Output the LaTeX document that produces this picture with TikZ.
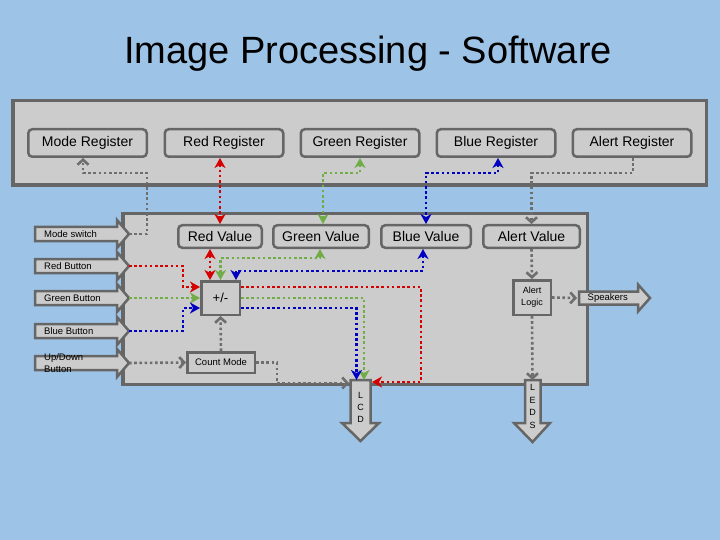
\documentclass[tikz,border=0pt]{standalone}
\usepackage{fontspec}
\setmainfont{Liberation Sans}
\usetikzlibrary{arrows.meta}
\definecolor{bg}{RGB}{157,195,230}
\definecolor{panel}{RGB}{204,204,204}
\definecolor{bord}{RGB}{102,102,102}
\definecolor{cred}{RGB}{215,0,0}
\definecolor{cgreen}{RGB}{112,173,71}
\definecolor{cblue}{RGB}{0,0,195}
\definecolor{cgray}{RGB}{110,110,110}
\begin{document}
\begin{tikzpicture}[x=1pt,y=-1pt,
  box/.style={draw=bord, fill=panel, line width=2.5pt, inner sep=0pt, text=black},
  rbox/.style={box, rounded corners=4pt},
  panelbox/.style={draw=bord, fill=panel, line width=3.5pt, inner sep=0pt},
  ashape/.style={draw=bord, fill=panel, line width=2.5pt, miter limit=10},
  big/.style={font=\fontsize{14}{16}\selectfont},
  small/.style={font=\fontsize{9.5}{11.5}\selectfont},
  lbl/.style={small, inner sep=0pt, anchor=west, align=left},
  con/.style={line width=2.6pt, dash pattern=on 2.6pt off 2.6pt},
  ctip/.tip={Stealth[length=10pt,width=11pt,inset=3pt]},
  gtip/.tip={Straight Barb[length=5pt,width=11pt]},
  cr/.style={con, draw=cred, ctip-ctip},
  crone/.style={con, draw=cred, -ctip},
  cg/.style={con, draw=cgreen, ctip-ctip},
  cgone/.style={con, draw=cgreen, -ctip},
  cb/.style={con, draw=cblue, ctip-ctip},
  cbone/.style={con, draw=cblue, -ctip},
  cy/.style={con, draw=cgray, -gtip}
]
\fill[bg] (0,0) rectangle (720,540);
\useasboundingbox (0,0) rectangle (720,540);

\node[anchor=base, font=\fontsize{38}{44}\selectfont] (title) at (368,64) {Image Processing - Software};

% panels
\node[panelbox, minimum width=693.5, minimum height=84.5] (toppanel) at (359.5,143) {};
\node[panelbox, minimum width=464.5, minimum height=170.5] (mainpanel) at (355,299) {};

% registers
\node[rbox, big, minimum width=118.5, minimum height=27.5] (modeR) at (87.5,143) {Mode Register};
\node[rbox, big, minimum width=118.5, minimum height=27.5] (redR) at (224,143) {Red Register};
\node[rbox, big, minimum width=118.5, minimum height=27.5] (greenR) at (360,143) {Green Register};
\node[rbox, big, minimum width=118.5, minimum height=27.5] (blueR) at (496,143) {Blue Register};
\node[rbox, big, minimum width=118.5, minimum height=27.5] (alertR) at (632,143) {Alert Register};

% values
\node[rbox, big, minimum width=83.5, minimum height=22.5] (redV) at (220,236.5) {Red Value};
\node[rbox, big, minimum width=95.5, minimum height=22.5] (greenV) at (321,236.5) {Green Value};
\node[rbox, big, minimum width=89.5, minimum height=22.5] (blueV) at (426,236.5) {Blue Value};
\node[rbox, big, minimum width=96.5, minimum height=22.5] (alertV) at (531.5,236.5) {Alert Value};

% logic boxes
\node[box, font=\fontsize{13}{15}\selectfont, minimum width=38.5, minimum height=33.5] (pm) at (220.5,298) {+/-};
\node[box, font=\fontsize{9}{12}\selectfont, align=center, minimum width=37.5, minimum height=34.5] (al) at (532,297.5) {Alert\\Logic};
\node[box, small, minimum width=67.5, minimum height=20.5] (cm) at (221,362.5) {Count Mode};

% input block arrows
\foreach \c/\n in {234/ms,266/rb,298/gb,331/bb,363/ud} {
  \draw[ashape] (35,\c-7) -- (117,\c-7) -- (117,\c-14) -- (129,\c) -- (117,\c+14) -- (117,\c+7) -- (35,\c+7) -- cycle;
  \coordinate (\n) at (129,\c);
}
\node[lbl] (msT) at (44,234) {Mode switch};
\node[lbl] (rbT) at (44,266) {Red Button};
\node[lbl] (gbT) at (44,298) {Green Button};
\node[lbl] (bbT) at (44,331) {Blue Button};
\node[lbl] (udT) at (44,363) {Up/Down\\Button};

% output block arrows
\draw[ashape] (579,291.5) -- (638,291.5) -- (638,284.5) -- (650,298) -- (638,311.5) -- (638,304.5) -- (579,304.5) -- cycle;
\coordinate (spk) at (577,298);
\node[lbl] (spT) at (587.5,298) {Speakers};

\draw[ashape] (350.5,380) -- (370.5,380) -- (370.5,423) -- (379,423) -- (360.5,441) -- (342,423) -- (350.5,423) -- cycle;
\node[font=\fontsize{9}{12}\selectfont, align=center, inner sep=0pt] (lcdT) at (360.5,407.5) {L\\C\\D};
\coordinate (lcdL) at (349,383);
\coordinate (lcdR) at (372,382);
\coordinate (lcdG) at (364,380);
\coordinate (lcdB) at (356.5,380);

\draw[ashape] (525,380) -- (540.5,380) -- (540.5,423) -- (550,423) -- (532.5,442) -- (514,423) -- (525,423) -- cycle;
\node[font=\fontsize{9}{12.4}\selectfont, align=center, inner sep=0pt] (ledsT) at (532.5,406.5) {L\\E\\D\\S};
\coordinate (leds) at (532.5,380);

% register <-> value connectors
\draw[cy] (ms) -| (147,173) -| ([xshift=-4.5]modeR.south);
\draw[cr] ([xshift=-4]redR.south) -- (redV.north);
\draw[cg] (greenR.south) -- ++(0,15) -| ([xshift=2]greenV.north);
\draw[cb] ([xshift=2]blueR.south) -- ++(0,15) -| (blueV.north);
\draw[cy] ([xshift=1]alertR.south) -- ++(0,15) -| (alertV.north);

% value <-> +/- connectors
\draw[cr] ([xshift=-10]redV.south) -- ([xshift=-10.5]pm.north);
\draw[cg] ([xshift=-1]greenV.south) -- ++(0,9) -| (pm.north);
\draw[cb] ([xshift=-3]blueV.south) -- ++(0,22) -| ([xshift=15.5]pm.north);

% buttons -> +/-
\draw[crone] (rb) -| (183,287) -- ([yshift=11]pm.west);
\draw[cgone] (gb) -- (pm.west);
\draw[cbone] (bb) -| (183,308) -- ([yshift=-10]pm.west);

% count mode
\draw[cy] (ud) -- (cm.west);
\draw[cy] (cm.north) -- (pm.south);
\draw[cy] (cm.east) -| (277,383) -- (lcdL);

% +/- -> LCD
\draw[crone] ([yshift=11]pm.east) -| (421,382) -- (lcdR);
\draw[cgone] (pm.east) -| (lcdG);
\draw[cbone] ([yshift=-10]pm.east) -| (lcdB);

% alert
\draw[cy] (alertV.south) -- (al.north);
\draw[cy] (al.east) -- (spk);
\draw[cy] (al.south) -- (leds);
\end{tikzpicture}
\end{document}
